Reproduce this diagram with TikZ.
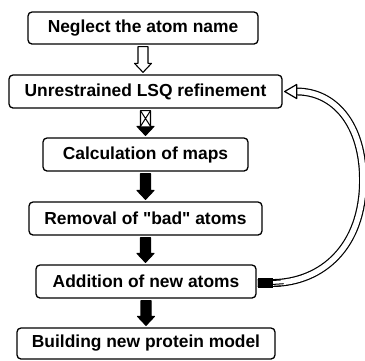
\documentclass[tikz,border=0pt]{standalone}
\usepackage{fontspec}
\setmainfont{Liberation Sans}[Ligatures=TeXOff]
\usetikzlibrary{calc}
\newcommand\blockarr[3]{%
  \path[#1] let \p1=(#2.south), \p2=(#3.north) in
  (\x1-5pt,\y1-2pt) -- (\x1+5pt,\y1-2pt) -- (\x1+5pt,\y2+11pt) -- (\x1+8.5pt,\y2+11pt)
  -- (\x1,\y2+2pt) -- (\x1-8.5pt,\y2+11pt) -- (\x1-5pt,\y2+11pt) -- cycle;}
\begin{document}
\begin{tikzpicture}[x=1pt,y=-1pt,
  box/.style={draw, line width=1.3pt, rounded corners=4pt, minimum height=32pt,
    inner sep=0pt, font=\fontsize{17.4}{20}\selectfont\bfseries},
  hollowarr/.style={draw, fill=white, line width=1.1pt, line join=round},
  solidarr/.style={draw, fill=black, line width=1.1pt, line join=round}]
\useasboundingbox (0,0) rectangle (365,360);
\node[box, minimum width=230pt] (b1) at (143,28) {Neglect the atom name};
\node[box, minimum width=273pt, minimum height=33pt] (b2) at (145.5,91.5) {Unrestrained LSQ refinement};
\node[box, minimum width=205pt, minimum height=33pt] (b3) at (145.5,154.5) {Calculation of maps};
\node[box, minimum width=233pt, minimum height=33pt] (b4) at (145.5,218.5) {Removal of "bad" atoms};
\node[box, minimum width=220pt, minimum height=33pt] (b5) at (146,281.5) {Addition of new atoms};
\node[box, minimum width=258pt, minimum height=31pt] (b6) at (146,343.5) {Building new protein model};
% vertical block arrows
\blockarr{hollowarr}{b1}{b2}
\blockarr{hollowarr}{b2}{b3}
\fill let \p1=(b2.south), \p2=(b3.north) in
  (\x1+8.5pt,\y2+11pt) -- (\x1,\y2+2pt) -- (\x1-8.5pt,\y2+11pt) -- cycle;
\draw[line width=1pt] let \p1=(b2.south), \p2=(b3.north) in
  (\x1-5pt,\y1-2pt) -- (\x1+5pt,\y2+11pt) (\x1+5pt,\y1-2pt) -- (\x1-5pt,\y2+11pt);
\blockarr{solidarr}{b3}{b4}
\blockarr{solidarr}{b4}{b5}
\blockarr{solidarr}{b5}{b6}
% feedback arrow
\coordinate (fs) at ($(b5.east)+(1,1.5)$);
\coordinate (fe) at ($(b2.east)+(14,0)$);
\draw[double, line width=1.2pt, double distance=5.5pt]
  (fs) -- ++(16,0) .. controls (322,282) and (363,247) .. (363,180)
  .. controls (363,125) and (335,91.5) .. (fe);
\draw[line width=1.2pt, fill=white, line join=round]
  ($(fe)+(0,-7)$) -- ($(b2.east)+(2,0)$) -- ($(fe)+(0,7)$) -- cycle;
\fill ($(b5.east)+(1,-3.5)$) rectangle ($(b5.east)+(16,6.5)$);
\draw[line width=1pt] ($(b5.east)+(15,-1)$) -- ++(9,-0.5)
  ($(b5.east)+(15,3)$) -- ++(12,-0.8) ($(b5.east)+(18,5)$) -- ++(6,-0.5);
\end{tikzpicture}
\end{document}
